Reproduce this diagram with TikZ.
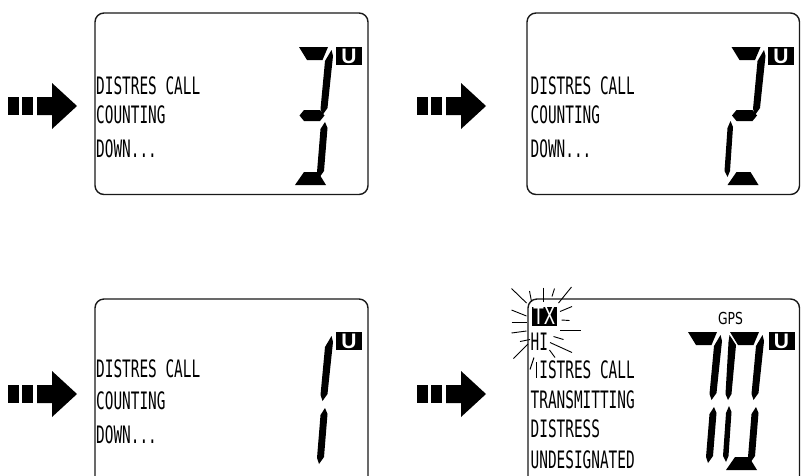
\documentclass[tikz,border=0pt]{standalone}
\usepackage{graphicx}
\usepackage{fontspec}
\newfontfamily\lcdfont{DejaVu Sans Mono}
\newfontfamily\ufont{Liberation Sans}
\newfontfamily\gpsfont{DejaVu Sans}
\newcommand\lcd[1]{\scalebox{0.6}[1]{\fontsize{24}{24}\selectfont\lcdfont #1}}
\tikzset{
  x=1pt, y=-1pt,
  panel/.style={draw=black!90, line width=1.4pt, rounded corners=9pt},
  lcdtext/.style={inner sep=0pt, anchor=base west},
  ubox/.style={fill=black, text=white, inner sep=0pt, minimum width=26pt, minimum height=18pt,
    font=\fontsize{21}{21}\selectfont\ufont\bfseries},
  ray/.style={line width=0.9pt},
  sa/.pic={\fill (0,0) -- (29,0) -- (23.5,13) -- (8,13) -- cycle;},
  sb/.pic={\fill (32.5,3) -- (34,9) -- (28.5,61) -- (23.5,68) -- (21.5,62) -- (26,14) -- cycle;},
  sc/.pic={\fill (26,75) -- (28.5,81) -- (25,124) -- (20,131) -- (18,125) -- (21.5,82) -- cycle;},
  sd/.pic={\fill (5,125) -- (19,125) -- (27,138) -- (-4,138) -- cycle;},
  se/.pic={\fill (-1,74) -- (1.5,80) -- (-1.5,124) -- (-4,130) -- (-7,124) -- (-4,81) -- cycle;},
  sf/.pic={\fill (-0.5,3) -- (6,13) -- (1.5,62) -- (-2,68) -- (-4.5,62) -- (-1.5,10) -- cycle;},
  sg/.pic={\fill (0.5,68.5) -- (5,63) -- (21,63) -- (25.5,68.5) -- (21,74) -- (5,74) -- cycle;},
  fatarrow/.pic={
    \fill (0,-9) rectangle (11,9);
    \fill (14,-9) rectangle (25,9);
    \fill (29,-9) -- (44,-9) -- (44,-23) -- (69,0) -- (44,23) -- (44,9) -- (29,9) -- cycle;},
}
\begin{document}
\begin{tikzpicture}
\useasboundingbox (0,0) rectangle (802,475);
\clip (0,0) rectangle (802,475);

% arrows
\pic at (8,106) {fatarrow};
\pic at (417,106) {fatarrow};
\pic at (8,394) {fatarrow};
\pic at (417,394) {fatarrow};

% panels
\draw[panel] (95,13) rectangle (368,194.5);
\draw[panel] (527,13) rectangle (799.5,194.5);
\draw[panel] (95,299) rectangle (368,495);
\draw[panel] (528,299) rectangle (799.5,495);

% panel 1 text
\node[lcdtext] (t11) at (96,94) {\lcd{DISTRES CALL}};
\node[lcdtext] (t12) at (96,123.5) {\lcd{COUNTING}};
\node[lcdtext] (t13) at (96,157) {\lcd{DOWN...}};
% panel 2 text
\node[lcdtext] (t21) at (530.5,94) {\lcd{DISTRES CALL}};
\node[lcdtext] (t22) at (530.5,123.5) {\lcd{COUNTING}};
\node[lcdtext] (t23) at (530.5,157) {\lcd{DOWN...}};
% panel 3 text
\node[lcdtext] (t31) at (96,377.5) {\lcd{DISTRES CALL}};
\node[lcdtext] (t32) at (96,409) {\lcd{COUNTING}};
\node[lcdtext] (t33) at (96,443) {\lcd{DOWN...}};
% panel 4 text
\node[lcdtext] (t41) at (530.5,378) {\lcd{DISTRES CALL}};
\node[lcdtext] (t42) at (530.5,408) {\lcd{TRANSMITTING}};
\node[lcdtext] (t43) at (530.5,437.5) {\lcd{DISTRESS}};
\node[lcdtext] (t44) at (530.5,468) {\lcd{UNDESIGNATED}};
\node[lcdtext] (hi) at (530.5,350) {\lcd{HI}};
\node[fill=black, inner sep=0pt, minimum width=25pt, minimum height=19pt] (tx) at (544,316)
  {\textcolor{white}{\scalebox{0.75}[1]{\fontsize{24}{24}\selectfont\lcdfont TX}}};
\node[inner sep=0pt] (gps) at (730.5,318.5)
  {\scalebox{0.75}[1]{\fontsize{16.5}{16.5}\selectfont\gpsfont GPS}};

% glow erasing the first letter of the first line in panel 4
\fill[white] (530.2,357) rectangle (538.6,379);
\draw[line width=1pt] (530,369.5) -- (534,357.5);
\draw[line width=1.1pt] (536.2,362) -- (536.2,377.5);

% U boxes
\node[ubox] (u1) at (349,56) {U};
\node[ubox] (u2) at (781,56) {U};
\node[ubox] (u3) at (349,341) {U};
\node[ubox] (u4) at (781.5,341) {U};

% digit 3 (panel 1)
\begin{scope}[shift={(299,47)}]
  \pic {sa}; \pic {sb}; \pic {sg}; \pic {sc}; \pic {sd};
\end{scope}
% digit 2 (panel 2)
\begin{scope}[shift={(731.5,47)}]
  \pic {sa}; \pic {sb}; \pic {sg}; \pic {se}; \pic {sd};
\end{scope}
% digit 1 (panel 3)
\begin{scope}[shift={(299,333)}]
  \pic {sb}; \pic {sc};
\end{scope}
% digits 7 0 (panel 4)
\begin{scope}[shift={(688,332)}]
  \pic {sa}; \pic {sb}; \pic {sc};
\end{scope}
\begin{scope}[shift={(730,332)}]
  \pic {sa}; \pic {sb}; \pic {sc}; \pic {sd}; \pic {se}; \pic {sf};
\end{scope}

% sparkle rays around TX / HI
\draw[ray] (511.5,288.5) -- (526.5,303);
\draw[ray] (529.5,291) -- (531.5,301.5);
\draw[ray] (543,287.5) -- (543,301.5);
\draw[ray] (554.5,288.5) -- (552,296.5);
\draw[ray] (571.5,287) -- (558.5,303);
\draw[ray] (560,311.5) -- (572,306.5);
\draw[ray] (561.5,320) -- (569.5,320.5);
\draw[ray] (560,330) -- (580.5,330);
\draw[ray] (553.5,336.5) -- (563.5,339.5);
\draw[ray] (550,342.5) -- (572,352.5);
\draw[ray] (549.5,350) -- (555,357.5);
\draw[ray] (511.5,310) -- (526.5,316);
\draw[ray] (511.5,322.5) -- (526.5,322.5);
\draw[ray] (511.5,333) -- (526.5,331);
\draw[ray] (520,341.5) -- (530,339.5);
\draw[ray] (513.5,358.5) -- (528,344);
\end{tikzpicture}
\end{document}
